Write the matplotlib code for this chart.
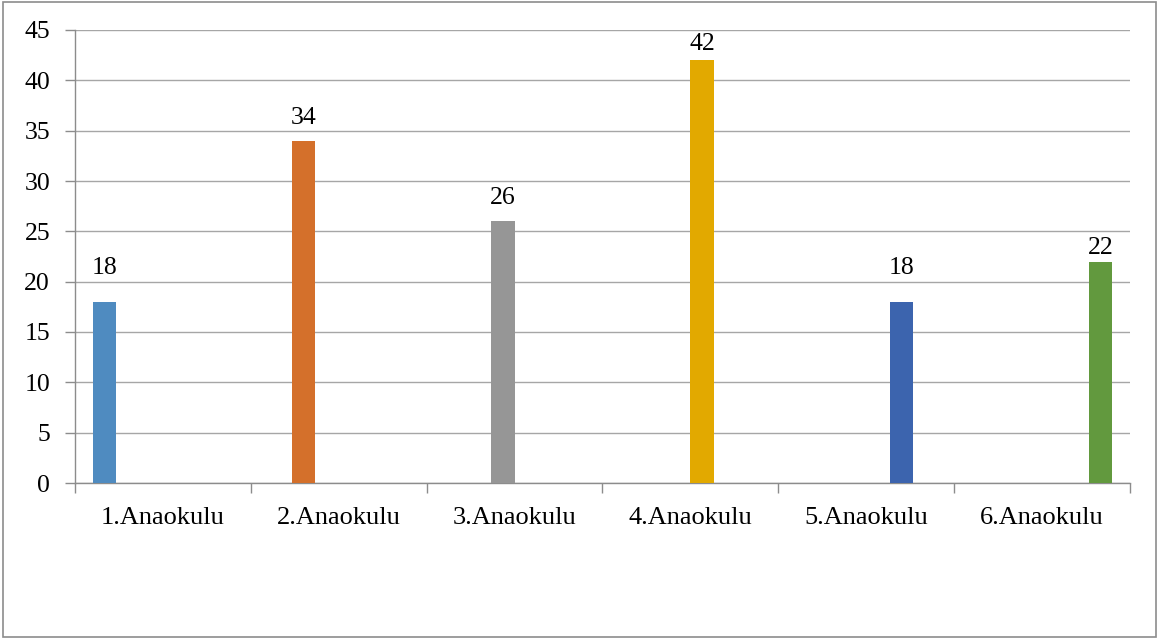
import matplotlib
matplotlib.use("Agg")
import matplotlib.pyplot as plt
from matplotlib.patches import Rectangle
import numpy as np

plt.rcParams['font.family'] = ['Liberation Serif', 'DejaVu Serif']

categories = ["1.Anaokulu", "2.Anaokulu", "3.Anaokulu", "4.Anaokulu", "5.Anaokulu", "6.Anaokulu"]
values = [18, 34, 26, 42, 18, 22]
colors = ["#4F8BC0", "#D4702B", "#969696", "#E2A900", "#3C64AE", "#62993E"]
y_ticks = [0, 5, 10, 15, 20, 25, 30, 35, 40, 45]
# gap (px) between each bar top and its value label baseline
label_gap_px = [28, 17, 17, 10, 28, 8]

FS = 18.5
fig = plt.figure(figsize=(11.6, 6.41), dpi=100)
fig.patch.set_facecolor("white")
fig.add_artist(Rectangle((3 / 1160, 4 / 641), 1153 / 1160, 635 / 641,
                         transform=fig.transFigure, fill=False,
                         edgecolor="#8c8c8c", linewidth=1.2))

ax = fig.add_axes([75 / 1160, 158 / 641, 1055 / 1160, 453 / 641])

# clustered layout: six series per category, each series filled in one category only
n_series = len(values)
bar_w = 1.0 / (n_series + 1.5)
x = np.arange(len(categories))
for j, (v, c) in enumerate(zip(values, colors)):
    xpos = x[j] + (j - (n_series - 1) / 2) * bar_w
    ax.bar(xpos, v, width=bar_w, color=c, zorder=3)
    ax.annotate(str(v), (xpos, v), xytext=(0, label_gap_px[j] * 0.72),
                textcoords="offset points", ha="center", va="baseline",
                fontsize=FS, color="black")

ax.set_xlim(-0.5, len(categories) - 0.5)
ax.set_ylim(0, 45)
ax.set_yticks(y_ticks)
ax.set_yticklabels([str(t) for t in y_ticks], fontsize=FS)
ax.set_xticks(np.arange(len(categories) + 1) - 0.5)
ax.set_xticklabels([])
ax.set_xticks(x, minor=True)
ax.set_xticklabels(categories, minor=True, fontsize=19)
ax.tick_params(axis="x", which="minor", length=0, pad=17.5)
ax.tick_params(axis="x", which="major", length=7, color="#8c8c8c", width=1)
ax.tick_params(axis="y", length=7, color="#8c8c8c", width=1, pad=11)

ax.grid(axis="y", color="#a6a6a6", linewidth=1, zorder=0)
for s in ["top", "right"]:
    ax.spines[s].set_visible(False)
for s in ["left", "bottom"]:
    ax.spines[s].set_color("#8c8c8c")
    ax.spines[s].set_linewidth(1)

fig.savefig("out.png", dpi=100)
